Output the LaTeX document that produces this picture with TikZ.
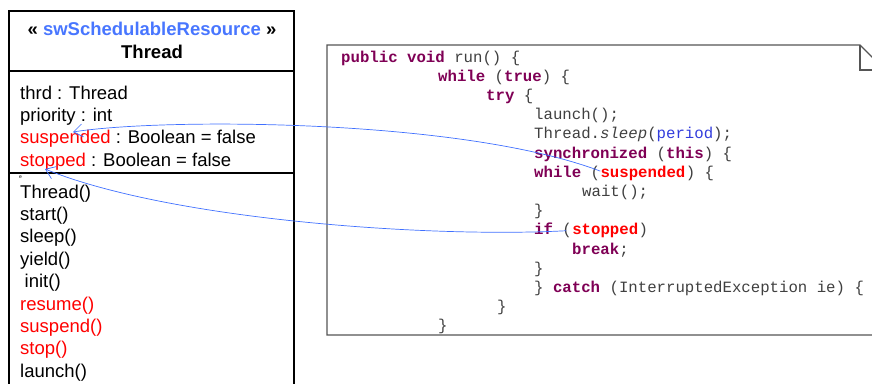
\documentclass[tikz,border=0pt]{standalone}
\usepackage{fontspec}
\setmainfont{Liberation Sans}
\setmonofont{Liberation Mono}
\usetikzlibrary{arrows.meta,positioning,calc}
\definecolor{kwpurple}{RGB}{127,0,85}
\definecolor{stereoblue}{RGB}{72,118,255}
\definecolor{fieldblue}{RGB}{50,60,220}
\definecolor{linkblue}{RGB}{64,112,255}
\definecolor{codegray}{RGB}{64,64,64}
\definecolor{notegray}{RGB}{85,85,85}
\newcommand{\kw}[1]{\textbf{\textcolor{kwpurple}{#1}}}
\newcommand{\flagword}[1]{\textbf{\textcolor{red}{#1}}}
\tikzset{
  box/.style={draw, line width=1.2pt, inner sep=0pt, outer sep=0pt,
              anchor=north west, minimum width=285pt},
  hdr/.style={anchor=base, inner sep=0pt, font=\bfseries\fontsize{18.5}{22}\selectfont},
  member/.style={anchor=base west, inner sep=0pt, font=\fontsize{18.5}{22}\selectfont},
  hot/.style={member, text=red},
  code/.style={anchor=base west, inner sep=0pt, text=codegray,
               font=\ttfamily\fontsize{15.7}{19}\selectfont},
  link/.style={draw=linkblue, line width=0.7pt,
               -{Straight Barb[length=9pt, width=13pt, line width=0.7pt]}},
}

\begin{document}
\begin{tikzpicture}[x=1pt, y=-1pt]
  \useasboundingbox (0,0) rectangle (872,383);
  \clip (0,0) rectangle (872,383);
  % class box
  \node[box, minimum height=60pt] (head) at (9,11) {};
  \node[box, minimum height=102pt] (attrs) at (head.south west) {};
  \node[box, minimum height=230pt] (ops) at (attrs.south west) {};
  \node[hdr] (stereo) at (152,35) {« \textcolor{stereoblue}{swSchedulableResource} »};
  \node[hdr] (cname) at (152,58) {Thread};
  % attributes
  \node[member] (athrd) at (20,99) {thrd : Thread};
  \node[member] (aprio) at (20,121) {priority : int};
  \node[member] (asusp) at (20,143.5) {\textcolor{red}{suspended} : Boolean = false};
  \node[member] (astop) at (20,166) {\textcolor{red}{stopped} : Boolean = false};
  \node[anchor=base west, inner sep=0pt, font=\fontsize{5}{6}\selectfont] (emark) at (19,178) {e};
  % operations
  \node[member] (othread) at (20,198) {Thread()};
  \node[member] (ostart) at (20,220.4) {start()};
  \node[member] (osleep) at (20,242.8) {sleep()};
  \node[member] (oyield) at (20,265.2) {yield()};
  \node[member] (oinit) at (24.5,287.6) {init()};
  \node[hot] (oresume) at (20,310) {resume()};
  \node[hot] (osuspend) at (20,332.4) {suspend()};
  \node[hot] (ostop) at (20,354.8) {stop()};
  \node[member] (olaunch) at (20,377.2) {launch()};
  % code note
  \draw[notegray, line width=1.3pt, line join=miter]
    (327,45) -- (860,45) -- (885,70) -- (885,335) -- (327,335) -- cycle;
  \draw[notegray, line width=1.3pt] (860,45) -- (860,70) -- (885,70);
  \node[code] (c0) at (341,62) {\kw{public void} run() \{};
  \node[code] (c1) at (438,81.2) {\kw{while} (\kw{true}) \{};
  \node[code] (c2) at (486,100.4) {\kw{try} \{};
  \node[code] (c3) at (534,119.6) {launch();};
  \node[code] (c4) at (534,138.8) {Thread.\textit{sleep}(\textcolor{fieldblue}{period});};
  \node[code] (c5) at (534,158) {\kw{synchronized} (\kw{this}) \{};
  \node[code] (c6) at (534,177.2) {\kw{while} (};
  \node[code, anchor=base west] (susp) at (c6.base east) {\flagword{suspended}};
  \node[code, anchor=base west] (c6b) at (susp.base east) {) \{};
  \node[code] (c7) at (582,196.4) {wait();};
  \node[code] (c8) at (534,215.6) {\}};
  \node[code] (c9) at (534,234.8) {\kw{if} (};
  \node[code, anchor=base west] (stp) at (c9.base east) {\flagword{stopped}};
  \node[code, anchor=base west] (c9b) at (stp.base east) {)};
  \node[code] (c10) at (572,254) {\kw{break};};
  \node[code] (c11) at (534,273.2) {\}};
  \node[code] (c12) at (534,292.4) {\} \kw{catch} (InterruptedException ie) \{};
  \node[code] (c13) at (497,311.6) {\}};
  \node[code] (c14) at (438,330.8) {\}};
  % links from the code back to the flags
  \coordinate (suspTip) at (73,132);
  \coordinate (stopTip) at (45,169);
  \draw[link] ([yshift=2pt]susp.west) .. controls (460,118) and (160,118) .. (suspTip);
  \draw[link] ([xshift=-6pt]stp.west) .. controls (430,238) and (170,220) .. (stopTip);
\end{tikzpicture}
\end{document}
